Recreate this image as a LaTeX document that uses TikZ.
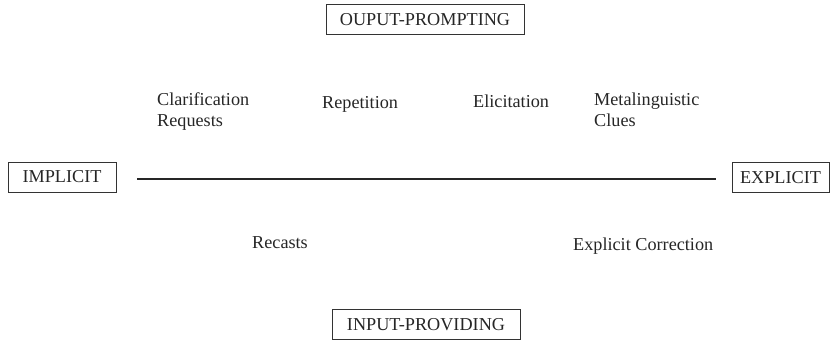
\documentclass[tikz,border=0pt]{standalone}
\usepackage{fontspec}
\setmainfont{Liberation Serif}
\begin{document}
\begin{tikzpicture}[x=1pt,y=-1pt,
  every node/.style={text=black!85, font=\fontsize{18.2}{21.5}\selectfont},
  labelbox/.style={draw=black!80, line width=0.9pt, inner sep=0pt,
    minimum height=30pt, anchor=center},
  term/.style={inner sep=0pt, anchor=base west, align=left},
  axis/.style={draw=black!85, line width=2pt}]
  \useasboundingbox (0,0) rectangle (830,340);

  % category boxes
  \node[labelbox, minimum width=198pt] (out) at (425,19.5) {OUPUT-PROMPTING};
  \node[labelbox, minimum width=188pt] (inp) at (426,324.5) {INPUT-PROVIDING};
  \node[labelbox, minimum width=108pt] (impl) at (62,177) {IMPLICIT};
  \node[labelbox, minimum width=97pt] (expl) at (780.5,177.5) {EXPLICIT};

  % implicit--explicit axis
  \draw[axis] ([xshift=21pt,yshift=-2pt]impl.east) -- ([xshift=-16pt,yshift=-1.5pt]expl.west);

  % output-prompting feedback types (two-line labels sit on their last baseline)
  \node[term] (clar) at (157,126.5) {Clarification\\Requests};
  \node[term] (rep) at (322,108) {Repetition};
  \node[term] (eli) at (473,107) {Elicitation};
  \node[term] (meta) at (594,126.5) {Metalinguistic\\Clues};

  % input-providing feedback types
  \node[term] (rec) at (252,248) {Recasts};
  \node[term] (corr) at (573,250) {Explicit Correction};
\end{tikzpicture}
\end{document}
